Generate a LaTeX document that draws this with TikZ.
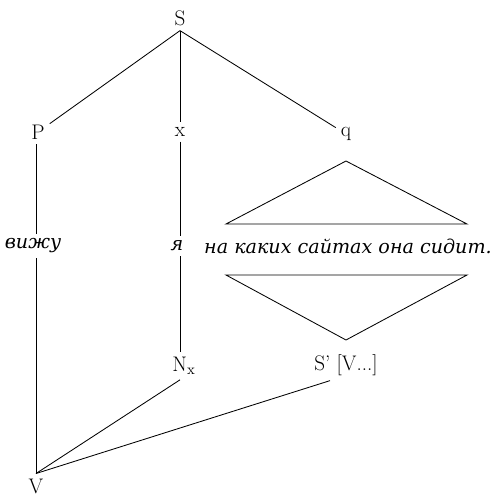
\documentclass[tikz,border=0pt]{standalone}
\usepackage{fontspec}
\newfontfamily\cyrfont{DejaVu Serif}

\begin{document}
\begin{tikzpicture}[
    x=0.025cm, y=-0.025cm,
    line width=0.6pt,
    every node/.style={font=\fontsize{15}{18}\selectfont},
    gloss/.style={font=\fontsize{13.6}{16}\selectfont\cyrfont\itshape}
]
\useasboundingbox (0,0) rectangle (494,495);

\node (s) at (180,18) {S};
\node (p) at (38,132) {P};
\node (x) at (180,132) {x};
\node (q) at (346,134) {q};
\node[gloss] (vizhu) at (33,246) {вижу};
\node[gloss] (ya) at (177,246) {я};
\node[gloss] (clause) at (348,246) {на каких сайтах она сидит.};
\node (nx) at (184,366) {N$_{\mathrm{x}}$};
\node (sbar) at (346,365) {S' [V...]};
\node (v) at (36,486) {V};

\draw (s.south) -- (p);
\draw (s.south) -- (x);
\draw (s.south) -- (q);
\draw (p.south -| v) -- (vizhu.north -| v);
\draw (vizhu.south -| v) -- (v);
\draw (x) -- (x |- ya.north);
\draw (x |- ya.south) -- (nx.north -| x);
\draw (nx.south -| x) -- (v.north);
\draw ([xshift=-0.4cm]sbar.south) -- (v.north);

\draw (226,224) -- (467,224) -- (346,161) -- cycle;
\draw (226,275) -- (467,275) -- (346,340) -- cycle;
\end{tikzpicture}
\end{document}
